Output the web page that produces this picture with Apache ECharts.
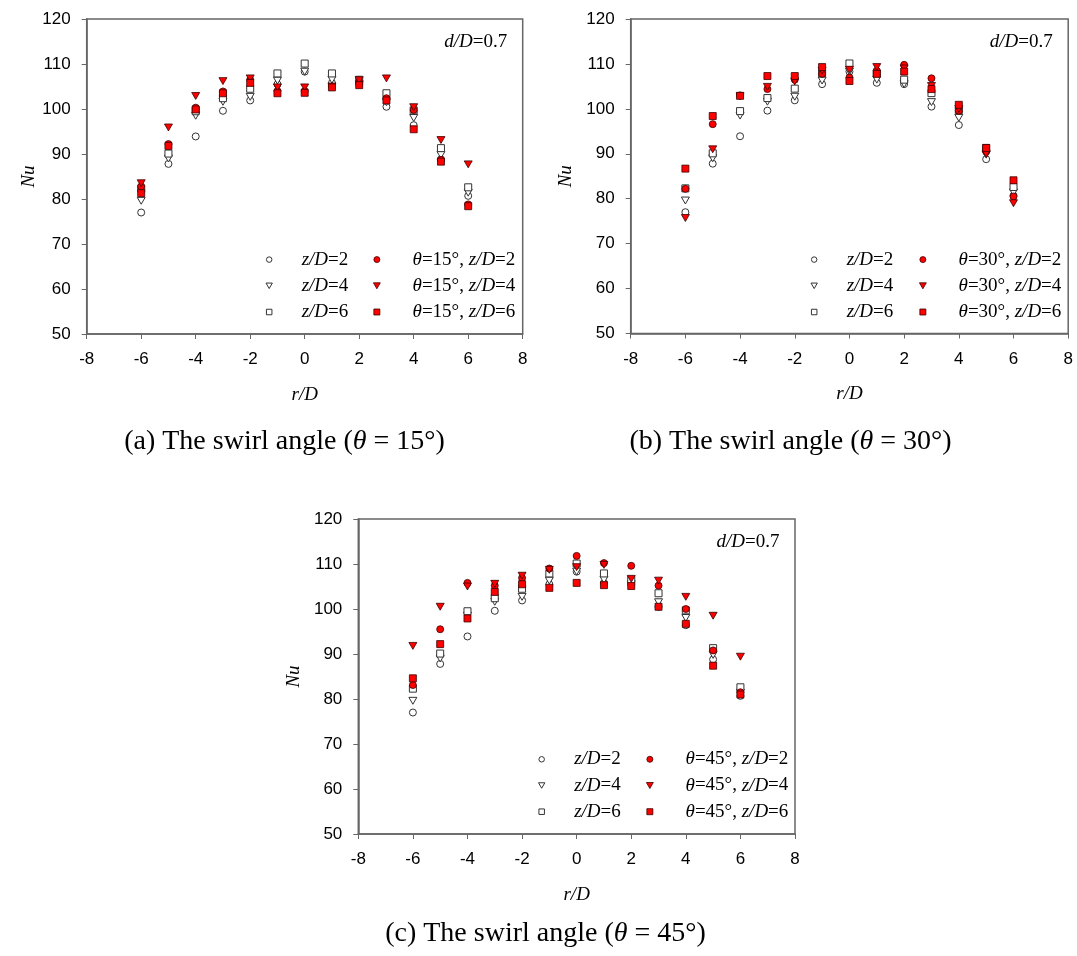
<!DOCTYPE html>
<html>
<head>
<meta charset="utf-8">
<script src="https://cdn.jsdelivr.net/npm/echarts@6/dist/echarts.min.js"></script>
<style>html,body{margin:0;padding:0;background:#fff;}#c{width:1077px;height:956px;}</style>
</head>
<body>
<div id="c"></div>
<script>
// ---- data ----
const rD = [-6, -5, -4, -3, -2, -1, 0, 1, 2, 3, 4, 5, 6];
const xTicks = [-8, -6, -4, -2, 0, 2, 4, 6, 8];
const yTicks = [50, 60, 70, 80, 90, 100, 110, 120];

// no swirl (open symbols)
const nu_zD2 = [77.0, 87.8, 93.9, 99.6, 101.9, 105.5, 108.3, 105.8, 105.5, 100.5, 96.4, 88.8, 80.7];
const nu_zD4 = [79.6, 89.0, 98.5, 101.6, 102.7, 106.3, 108.3, 106.5, 105.5, 101.5, 98.0, 89.8, 81.4];
const nu_zD6 = [82.3, 90.1, 99.5, 102.4, 104.5, 107.9, 110.1, 107.9, 106.5, 103.5, 99.7, 91.3, 82.6];

// theta = 15
const nu15_zD2 = [82.8, 92.2, 100.3, 103.9, 106.5, 104.0, 104.0, 105.0, 106.0, 102.4, 99.8, 88.7, 78.8];
const nu15_zD4 = [83.5, 95.9, 102.9, 106.2, 106.8, 104.8, 104.8, 105.0, 106.4, 106.8, 100.4, 93.1, 87.7];
const nu15_zD6 = [81.3, 91.8, 99.9, 103.5, 105.8, 103.5, 103.6, 104.8, 105.3, 101.9, 95.5, 88.3, 78.4];

// theta = 30
const nu30_zD2 = [82.2, 96.6, 103.0, 104.4, 106.5, 107.8, 107.0, 108.5, 109.8, 106.8, 99.6, 90.5, 80.5];
const nu30_zD4 = [75.7, 91.0, 102.8, 104.9, 106.1, 108.5, 108.7, 109.3, 109.0, 105.1, 100.0, 90.0, 79.0];
const nu30_zD6 = [86.7, 98.4, 102.9, 107.3, 107.3, 109.3, 106.2, 107.8, 108.3, 104.4, 100.9, 91.3, 84.1];

// theta = 45
const nu45_zD2 = [83.1, 95.5, 105.8, 105.2, 106.9, 109.0, 111.8, 110.2, 109.6, 105.2, 100.0, 90.8, 81.5];
const nu45_zD4 = [91.8, 100.5, 105.0, 105.6, 107.4, 108.7, 109.3, 109.8, 106.7, 106.3, 102.7, 98.5, 89.4];
const nu45_zD6 = [84.6, 92.2, 97.9, 103.8, 105.5, 104.7, 105.8, 105.3, 105.1, 100.5, 96.7, 87.4, 81.0];

const angles = ['15', '30', '45'];
const swirlData = [
  [nu15_zD2, nu15_zD4, nu15_zD6],
  [nu30_zD2, nu30_zD4, nu30_zD6],
  [nu45_zD2, nu45_zD4, nu45_zD6]
];
const baseData = [nu_zD2, nu_zD4, nu_zD6];
const zLabels = ['2', '4', '6'];
const captions = ['(a)', '(b)', '(c)'];

// ---- layout / style ----
const SERIF = 'Liberation Serif';
const SANS = 'Liberation Sans';
const grids = [
  { left: 86.7, top: 19, width: 436, height: 315 },
  { left: 630.7, top: 19, width: 437.5, height: 314.5 },
  { left: 358.3, top: 519, width: 436.7, height: 315 }
];
const nuGap = [38, 55, 55];
const legendPos = [
  { c1: 265.5, c2: 373.0, top: 250.1 },
  { c1: 810.5, c2: 919.0, top: 250.1 },
  { c1: 538.0, c2: 646.0, top: 749.8 }
];
const captionPos = [[284.5, 441.6], [790.5, 441.6], [545.5, 933.3]];
const triDown = 'path://M0,0L10,0L5,8.66Z';
const square = 'path://M0,0L10,0L10,10L0,10Z';
const symbols = ['circle', triDown, square];
const symSizes = [7, 8, 7];

const axisColor = '#666';
const openStyle = { color: '#fff', borderColor: '#333', borderWidth: 1, opacity: 1 };
const redStyle = { color: '#ff0000', borderColor: '#3a0000', borderWidth: 0.8, opacity: 1 };
const rich = {
  i: { fontFamily: SERIF, fontStyle: 'italic', fontSize: 19, color: '#000' },
  n: { fontFamily: SERIF, fontSize: 19, color: '#000' }
};
const legendRich = {
  i: { fontFamily: SERIF, fontStyle: 'italic', fontSize: 19, color: '#000', lineHeight: 26.2 },
  n: { fontFamily: SERIF, fontSize: 19, color: '#000', lineHeight: 26.2 }
};
function richName(name) {
  const parts = name.split('z/D');
  let pre = parts[0];
  let out = '';
  if (pre.startsWith('θ')) {
    out += '{i|θ}{n|' + pre.slice(1) + '}';
  }
  out += '{i|z/D}{n|' + parts[1] + '}';
  return out;
}

const option = {
  animation: false,
  backgroundColor: '#fff',
  grid: grids.map(g => Object.assign({ show: true, borderColor: axisColor, borderWidth: 1.5, backgroundColor: 'transparent' }, g)),
  xAxis: grids.map((g, p) => ({
    type: 'value', gridIndex: p,
    min: xTicks[0], max: xTicks[xTicks.length - 1], interval: xTicks[1] - xTicks[0],
    splitLine: { show: false },
    axisLine: { onZero: false, lineStyle: { color: axisColor, width: 1.5 } },
    axisTick: { inside: false, length: 5, lineStyle: { color: axisColor, width: 1 } },
    axisLabel: { color: '#000', fontFamily: SANS, fontSize: 17, margin: 17 },
    name: '{i|r}{i|/D}', nameLocation: 'middle', nameGap: 51,
    nameTextStyle: { rich: rich }
  })),
  yAxis: grids.map((g, p) => ({
    type: 'value', gridIndex: p,
    min: yTicks[0], max: yTicks[yTicks.length - 1], interval: yTicks[1] - yTicks[0],
    splitLine: { show: false },
    axisLine: { onZero: false, lineStyle: { color: axisColor, width: 1.5 } },
    axisTick: { inside: false, length: 5, lineStyle: { color: axisColor, width: 1 } },
    axisLabel: { color: '#000', fontFamily: SANS, fontSize: 17, margin: 16 },
    name: '{i|Nu}', nameLocation: 'middle', nameGap: nuGap[p], nameRotate: 90,
    nameTextStyle: { rich: rich }
  })),
  legend: [],
  series: [],
  graphic: []
};

for (let p = 0; p < 3; p++) {
  const openItems = [];
  const redItems = [];
  for (let k = 0; k < 3; k++) {
    const name = 'z/D=' + zLabels[k];
    openItems.push({ name: name, icon: symbols[k], itemStyle: openStyle });
    option.series.push({
      type: 'scatter', name: name, xAxisIndex: p, yAxisIndex: p,
      symbol: symbols[k], symbolSize: symSizes[k], symbolKeepAspect: true,
      itemStyle: openStyle,
      data: rD.map((x, i) => [x, baseData[k][i]])
    });
  }
  for (let k = 0; k < 3; k++) {
    const name = 'θ=' + angles[p] + '°, z/D=' + zLabels[k];
    redItems.push({ name: name, icon: symbols[k], itemStyle: redStyle });
    option.series.push({
      type: 'scatter', name: name, xAxisIndex: p, yAxisIndex: p,
      symbol: symbols[k], symbolSize: symSizes[k], symbolKeepAspect: true,
      itemStyle: redStyle,
      data: rD.map((x, i) => [x, swirlData[p][k][i]])
    });
  }
  const lp = legendPos[p];
  option.legend.push({
    data: openItems, orient: 'vertical', left: lp.c1, top: lp.top, padding: 0, itemGap: 7.2,
    itemWidth: 55, itemHeight: 5.5, selectedMode: false, symbolKeepAspect: true,
    formatter: richName, textStyle: { rich: legendRich }
  });
  option.legend.push({
    data: redItems, orient: 'vertical', left: lp.c2, top: lp.top, padding: 0, itemGap: 7.2,
    itemWidth: 61.4, itemHeight: 6, selectedMode: false, symbolKeepAspect: true,
    formatter: richName, textStyle: { rich: legendRich }
  });
  const g = grids[p];
  option.graphic.push({
    type: 'text', x: g.left + g.width - 15.5, y: g.top + 23,
    style: { text: '{i|d}{i|/D}{n|=0.7}', rich: rich, align: 'right', verticalAlign: 'middle' }
  });
  option.graphic.push({
    type: 'text', x: captionPos[p][0], y: captionPos[p][1],
    style: {
      text: '{n|' + captions[p] + ' The swirl angle (}{i|θ}{n| = ' + angles[p] + '°)}',
      rich: {
        n: { fontFamily: SERIF, fontSize: 28, color: '#000' },
        i: { fontFamily: SERIF, fontSize: 28, fontStyle: 'italic', color: '#000' }
      },
      align: 'center', verticalAlign: 'middle'
    }
  });
}

const chart = echarts.init(document.getElementById('c'), null, { renderer: 'canvas' });
chart.setOption(option);
</script>
</body>
</html>
